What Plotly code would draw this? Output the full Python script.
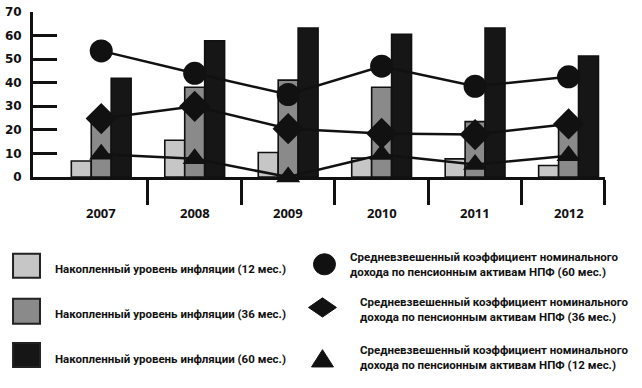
import plotly.graph_objects as go

years = ["2007", "2008", "2009", "2010", "2011", "2012"]
infl_12 = [6.8, 15.6, 10.4, 8.0, 7.7, 4.9]
infl_36 = [24.0, 38.1, 41.1, 38.1, 23.5, 22.0]
infl_60 = [41.9, 57.8, 63.2, 60.5, 63.2, 51.3]
npf_60 = [53.5, 44.0, 35.0, 47.0, 38.5, 42.5]
npf_36 = [24.8, 30.0, 20.5, 18.5, 18.0, 22.5]
npf_12 = [9.7, 7.7, 0.0, 9.5, 5.3, 9.0]
y_ticks = [0, 10, 20, 30, 40, 50, 60, 70]

leg_bar = ["Накопленный уровень инфляции (12 мес.)",
           "Накопленный уровень инфляции (36 мес.)",
           "Накопленный уровень инфляции (60 мес.)"]
leg_line = ["Средневзвешенный коэффициент номинального<br>дохода по пенсионным активам НПФ (60 мес.)",
            "Средневзвешенный коэффициент номинального<br>дохода по пенсионным активам НПФ (36 мес.)",
            "Средневзвешенный коэффициент номинального<br>дохода по пенсионным активам НПФ (12 мес.)"]

W, H = 642, 388
L, R, T, B = 32, 605, 5, 177  # plot area in pixels
XMIN, XMAX = -0.73, 5.39

def px(x):
    return (x - L) / (R - L)

def py(y):
    return (B - y) / (B - T)

xs = list(range(len(years)))
fig = go.Figure()
bar_colors = ["#c6c6c6", "#8a8a8a", "#161616"]
for vals, col, name in zip([infl_12, infl_36, infl_60], bar_colors, leg_bar):
    fig.add_trace(go.Bar(x=xs, y=vals, name=name, marker=dict(color=col, line=dict(color="#111", width=1.6)),
                         showlegend=False))

for vals, sym, size, name in zip([npf_60, npf_36, npf_12], ["circle", "diamond", "triangle-up"], [23, 24, 21], leg_line):
    fig.add_trace(go.Scatter(x=xs, y=vals, mode="lines+markers", name=name, cliponaxis=False,
                             line=dict(color="#111", width=2.5),
                             marker=dict(symbol=sym, size=size, color="#111"), showlegend=False))

fig.update_layout(
    width=W, height=H, margin=dict(l=L, r=W - R, t=T, b=H - B),
    paper_bgcolor="white", plot_bgcolor="white",
    barmode="group", bargap=0.36, bargroupgap=0,
    showlegend=False,
    xaxis=dict(range=[XMIN, XMAX], showline=True, linecolor="#111", linewidth=2.5,
               tickvals=[0.5, 1.5, 2.5, 3.5, 4.5, XMAX - 0.005], ticks="outside", ticklen=25,
               tickwidth=2.5, tickcolor="#111", showticklabels=False, showgrid=False, zeroline=False),
    yaxis=dict(range=[0, 70], tickvals=y_ticks, showline=True, linecolor="#111", linewidth=3,
               ticks="inside", ticklen=24, tickwidth=3, tickcolor="#111", showgrid=False, zeroline=False,
               ticklabelstandoff=6, ticklabeloverflow="allow",
               tickfont=dict(family="DejaVu Sans", size=12, color="#111", weight="bold")),
)

# year labels
for i, yr in enumerate(years):
    fig.add_annotation(x=i, y=py(226), xref="x", yref="paper", text=yr, showarrow=False,
                       font=dict(family="Open Sans", size=13, color="#111", weight="bold"))

# legend (manual)
leg_font = dict(family="Roboto", size=11.5, color="#111", weight="bold")
sq_rows = [(257, 282, 273), (304, 330, 320), (350, 375, 367)]
for (y0, y1, ty), col, txt in zip(sq_rows, bar_colors, leg_bar):
    fig.add_shape(type="rect", xref="paper", yref="paper", x0=px(12), x1=px(39), y0=py(y1), y1=py(y0),
                  fillcolor=col, line=dict(color="#222", width=2))
    fig.add_annotation(x=px(52), y=py(ty), xref="paper", yref="paper", text=txt, showarrow=False,
                       xanchor="left", yanchor="middle", font=leg_font)

# circle
fig.add_shape(type="circle", xref="paper", yref="paper", x0=px(313), x1=px(335), y0=py(279), y1=py(257),
              fillcolor="#111", line=dict(color="#111", width=1))
# diamond
cx, cy = 322, 313
fig.add_shape(type="path", xref="paper", yref="paper",
              path=f"M {px(cx-14)} {py(cy)} L {px(cx)} {py(cy-10)} L {px(cx+14)} {py(cy)} L {px(cx)} {py(cy+10)} Z",
              fillcolor="#111", line=dict(color="#111", width=1))
# triangle
cx, cy = 322, 366
fig.add_shape(type="path", xref="paper", yref="paper",
              path=f"M {px(cx-11)} {py(cy+9)} L {px(cx)} {py(cy-9)} L {px(cx+11)} {py(cy+9)} Z",
              fillcolor="#111", line=dict(color="#111", width=1))

line_pos = [(348, 268), (358, 315), (358, 365)]
for (tx, ty), txt in zip(line_pos, leg_line):
    fig.add_annotation(x=px(tx), y=py(ty), xref="paper", yref="paper", text=txt, showarrow=False,
                       xanchor="left", yanchor="middle", align="left", font=leg_font)

fig.write_html("out.html", config={"displayModeBar": False},
               post_script="document.body.style.margin='0';")
